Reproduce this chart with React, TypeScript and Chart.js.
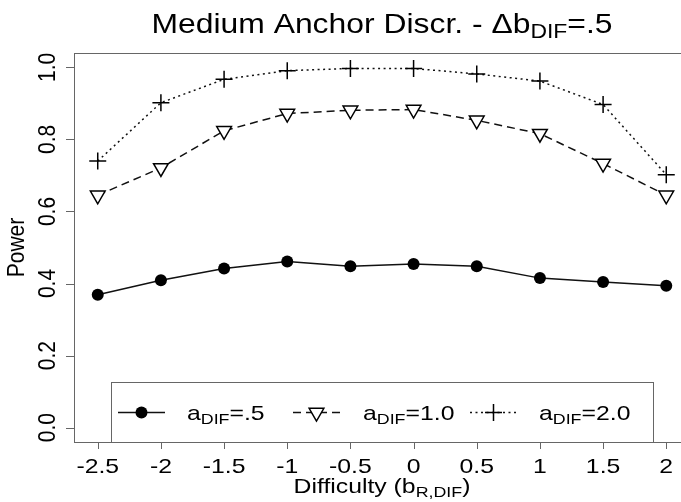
import React, { useEffect, useRef } from 'react';
import { Chart, registerables } from 'chart.js';

Chart.register(...registerables);

// ---- data ----
const difficulty = [-2.5, -2, -1.5, -1, -0.5, 0, 0.5, 1, 1.5, 2];
const powerA05 = [0.369, 0.409, 0.442, 0.461, 0.448, 0.454, 0.448, 0.415, 0.404, 0.394];
const powerA10 = [0.645, 0.721, 0.824, 0.872, 0.881, 0.883, 0.853, 0.816, 0.733, 0.645];
const powerA20 = [0.74, 0.902, 0.967, 0.991, 0.997, 0.997, 0.982, 0.962, 0.897, 0.702];

const xTickValues = [-2.5, -2, -1.5, -1, -0.5, 0, 0.5, 1, 1.5, 2];
const xTickLabels = ['-2.5', '-2', '-1.5', '-1', '-0.5', '0', '0.5', '1', '1.5', '2'];
const yTickValues = [0, 0.2, 0.4, 0.6, 0.8, 1.0];
const yTickLabels = ['0.0', '0.2', '0.4', '0.6', '0.8', '1.0'];

type Part = { t: string; sub?: boolean };
const titleParts: Part[] = [{ t: 'Medium Anchor Discr. - \u0394b' }, { t: 'DIF', sub: true }, { t: '=.5' }];
const xTitleParts: Part[] = [{ t: 'Difficulty (b' }, { t: 'R,DIF', sub: true }, { t: ')' }];
const yTitle = 'Power';
const legendLabels: Part[][] = [
  [{ t: 'a' }, { t: 'DIF', sub: true }, { t: '=.5' }],
  [{ t: 'a' }, { t: 'DIF', sub: true }, { t: '=1.0' }],
  [{ t: 'a' }, { t: 'DIF', sub: true }, { t: '=2.0' }],
];

const FONT = '"Liberation Sans", Arial, Helvetica, sans-serif';
const INK = '#000';
const FRAME = '#666';
const SX = 1.18; // horizontal stretch of the original rendering's text

function richWidth(ctx: CanvasRenderingContext2D, parts: Part[], size: number) {
  let w = 0;
  for (const p of parts) {
    ctx.font = `${p.sub ? size * 0.72 : size}px ${FONT}`;
    w += ctx.measureText(p.t).width;
  }
  return w * SX;
}

function drawRich(ctx: CanvasRenderingContext2D, parts: Part[], x: number, y: number, size: number, center: boolean) {
  const w = richWidth(ctx, parts, size);
  let cx = center ? x - w / 2 : x;
  ctx.textAlign = 'left';
  ctx.textBaseline = 'alphabetic';
  for (const p of parts) {
    ctx.font = `${p.sub ? size * 0.72 : size}px ${FONT}`;
    ctx.save();
    ctx.translate(cx, p.sub ? y + size * 0.2 : y);
    ctx.scale(SX, 1);
    ctx.fillText(p.t, 0, 0);
    ctx.restore();
    cx += ctx.measureText(p.t).width * SX;
  }
}

function drawMarker(ctx: CanvasRenderingContext2D, kind: number, x: number, y: number) {
  ctx.save();
  ctx.strokeStyle = INK;
  ctx.lineWidth = 1.5;
  ctx.setLineDash([]);
  if (kind === 0) {
    ctx.fillStyle = INK;
    ctx.beginPath();
    ctx.arc(x, y, 6, 0, Math.PI * 2);
    ctx.fill();
  } else if (kind === 1) {
    const r = 8.5;
    ctx.fillStyle = '#fff';
    ctx.beginPath();
    for (let i = 0; i < 3; i++) {
      const a = Math.PI + (i * 2 * Math.PI) / 3;
      const px = x + Math.sin(a) * r;
      const py = y - Math.cos(a) * r;
      if (i === 0) ctx.moveTo(px, py);
      else ctx.lineTo(px, py);
    }
    ctx.closePath();
    ctx.fill();
    ctx.stroke();
  } else {
    const r = 8.5;
    ctx.beginPath();
    ctx.moveTo(x - r, y);
    ctx.lineTo(x + r, y);
    ctx.moveTo(x, y - r);
    ctx.lineTo(x, y + r);
    ctx.stroke();
  }
  ctx.restore();
}

const decorPlugin = {
  id: 'decor',
  afterDraw(chart: any) {
    const ctx: CanvasRenderingContext2D = chart.ctx;
    const area = chart.chartArea;
    const xs = chart.scales.x;
    const ys = chart.scales.y;
    const axisSize = 21;
    ctx.save();

    // plot box
    ctx.strokeStyle = FRAME;
    ctx.lineWidth = 1;
    ctx.setLineDash([]);
    ctx.strokeRect(area.left - 0.5, area.top + 0.5, area.right - area.left, area.bottom - area.top);

    // x ticks
    ctx.beginPath();
    xTickValues.forEach((v) => {
      const px = Math.round(xs.getPixelForValue(v)) + 0.5;
      ctx.moveTo(px, area.bottom);
      ctx.lineTo(px, area.bottom + 7);
    });
    // y ticks
    yTickValues.forEach((v) => {
      const py = Math.round(ys.getPixelForValue(v)) + 0.5;
      ctx.moveTo(area.left - 1, py);
      ctx.lineTo(area.left - 9, py);
    });
    ctx.stroke();

    ctx.fillStyle = INK;
    // x tick labels
    ctx.font = `${axisSize}px ${FONT}`;
    ctx.textAlign = 'center';
    ctx.textBaseline = 'alphabetic';
    xTickValues.forEach((v, i) => {
      ctx.save();
      ctx.translate(xs.getPixelForValue(v), 473);
      ctx.scale(SX, 1);
      ctx.fillText(xTickLabels[i], 0, 0);
      ctx.restore();
    });
    // y tick labels (rotated)
    yTickValues.forEach((v, i) => {
      ctx.save();
      ctx.translate(55, ys.getPixelForValue(v));
      ctx.scale(SX, 1);
      ctx.rotate(-Math.PI / 2);
      ctx.textAlign = 'center';
      ctx.fillText(yTickLabels[i], 0, 0);
      ctx.restore();
    });
    // y title
    ctx.save();
    ctx.translate(24, (area.top + area.bottom) / 2);
    ctx.scale(SX, 1);
    ctx.rotate(-Math.PI / 2);
    ctx.textAlign = 'center';
    ctx.font = `${axisSize}px ${FONT}`;
    ctx.fillText(yTitle, 0, 0);
    ctx.restore();

    const cx = (area.left + area.right) / 2;
    // x title
    drawRich(ctx, xTitleParts, cx, 493, axisSize, true);
    // main title
    drawRich(ctx, titleParts, cx, 33, 27, true);

    // legend
    const lx0 = 111, lx1 = 653, ly0 = 382;
    ctx.fillStyle = '#fff';
    ctx.fillRect(lx0, ly0, lx1 - lx0, area.bottom - ly0);
    ctx.strokeStyle = FRAME;
    ctx.lineWidth = 1;
    ctx.strokeRect(lx0 + 0.5, ly0 + 0.5, lx1 - lx0, area.bottom - ly0);
    const ly = 412.5;
    const lineStarts = [118, 293, 470];
    const textStarts = [187, 363, 539];
    const dashes = [[], [8, 5], [2, 3.5]];
    for (let i = 0; i < 3; i++) {
      ctx.save();
      ctx.strokeStyle = '#111';
      ctx.lineWidth = 1.5;
      ctx.setLineDash(dashes[i]);
      ctx.beginPath();
      ctx.moveTo(lineStarts[i], ly);
      ctx.lineTo(lineStarts[i] + 47, ly);
      ctx.stroke();
      ctx.restore();
      drawMarker(ctx, i, lineStarts[i] + 23.5, ly);
      ctx.fillStyle = INK;
      drawRich(ctx, legendLabels[i], textStarts[i], ly + 7, axisSize, false);
    }
    ctx.restore();
  },
};

export default function App() {
  const ref = useRef<HTMLCanvasElement>(null);
  useEffect(() => {
    const toXY = (ys: number[]) => difficulty.map((x, i) => ({ x, y: ys[i] }));
    const chart = new Chart(ref.current as HTMLCanvasElement, {
      type: 'line',
      data: {
        datasets: [
          {
            label: 'aDIF=.5',
            data: toXY(powerA05),
            borderColor: '#111',
            borderWidth: 1.5,
            pointStyle: 'circle',
            pointRadius: 6,
            pointBackgroundColor: '#000',
            pointBorderColor: '#000',
            pointBorderWidth: 0,
            tension: 0,
          },
          {
            label: 'aDIF=1.0',
            data: toXY(powerA10),
            borderColor: '#111',
            borderWidth: 1.5,
            borderDash: [8, 5],
            pointStyle: 'triangle',
            pointRotation: 180,
            pointRadius: 8.5,
            pointBackgroundColor: '#fff',
            pointBorderColor: '#000',
            pointBorderWidth: 1.5,
            tension: 0,
          },
          {
            label: 'aDIF=2.0',
            data: toXY(powerA20),
            borderColor: '#111',
            borderWidth: 1.5,
            borderDash: [2, 3.5],
            pointStyle: 'cross',
            pointRadius: 8.5,
            pointBorderColor: '#000',
            pointBorderWidth: 1.5,
            tension: 0,
          },
        ],
      },
      options: {
        animation: false,
        responsive: false,
        devicePixelRatio: 1,
        layout: { padding: { left: 75, top: 53, right: 11, bottom: 60 } },
        scales: {
          x: { type: 'linear', min: -2.68, max: 2.18, display: false },
          y: { type: 'linear', min: -0.04, max: 1.04, display: false },
        },
        plugins: {
          legend: { display: false },
          title: { display: false },
          tooltip: { enabled: false },
        },
        events: [],
      },
      plugins: [decorPlugin],
    } as any);
    return () => chart.destroy();
  }, []);
  return (
    <div style={{ position: 'absolute', left: 0, top: 0, width: 681, height: 502, overflow: 'hidden', background: '#fff' }}>
      <canvas ref={ref} width={700} height={502} style={{ display: 'block' }} />
    </div>
  );
}
